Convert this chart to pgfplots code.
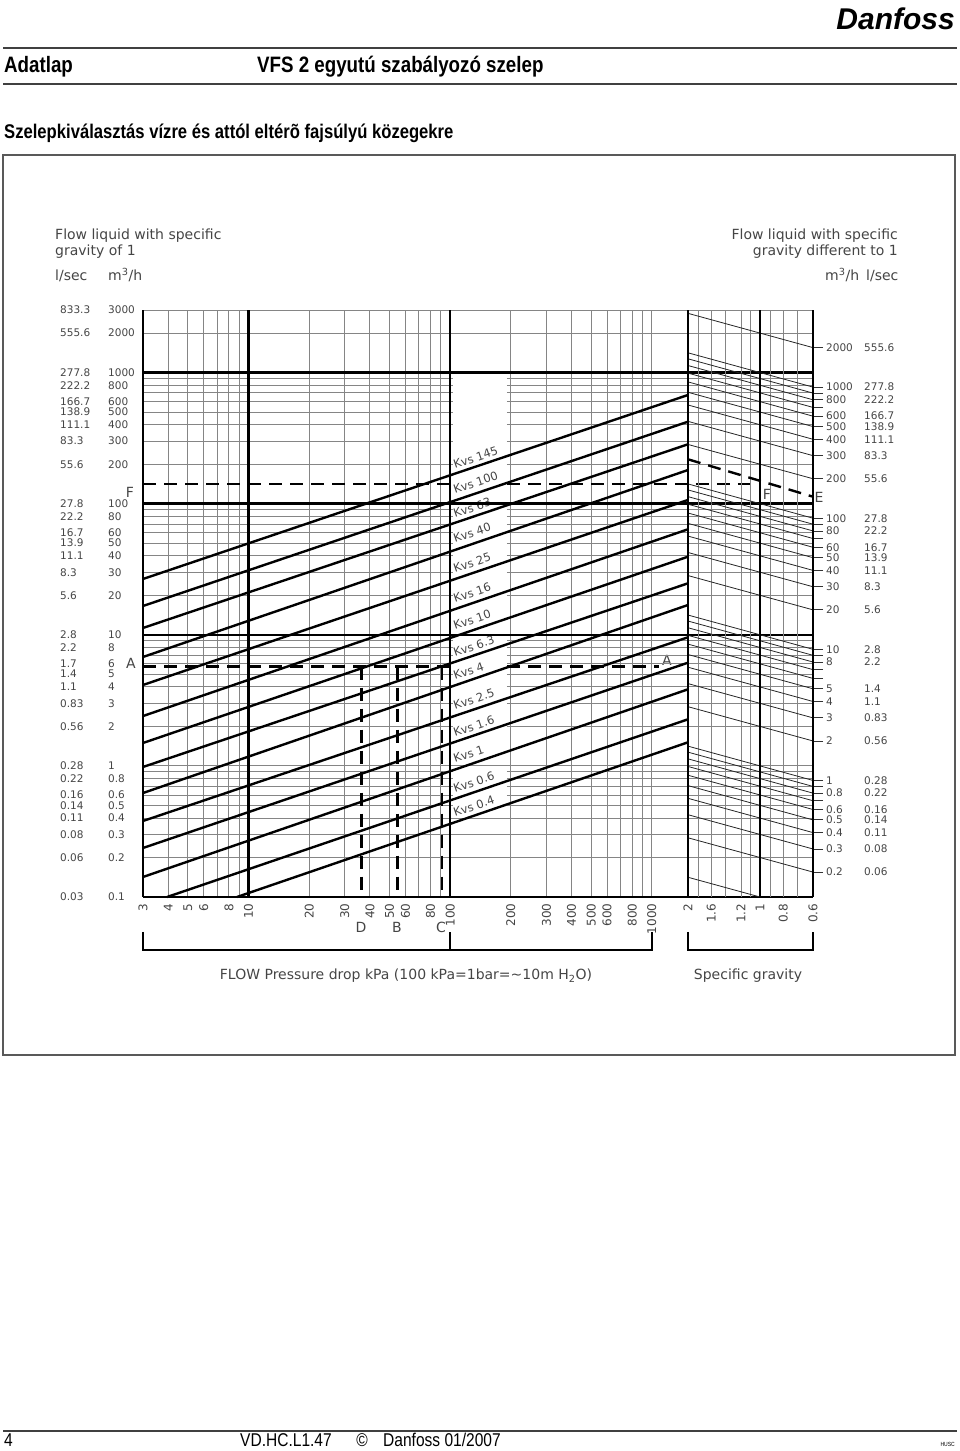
\documentclass[border=0pt]{standalone}
\usepackage{fontspec}
\usepackage{pgfplots}
\pgfplotsset{compat=1.18}
\setmainfont{Liberation Sans}
\newfontfamily\hdr[FakeStretch=0.84]{Liberation Sans}
\newfontfamily\cad{DejaVu Sans}
\definecolor{gridc}{HTML}{858585}
\definecolor{txtc}{HTML}{454545}
\newcommand\LL[2]{\makebox[48pt][l]{#2}#1}
\newcommand\RL[2]{\makebox[38pt][l]{#1}#2}
\newcommand\ctxt{\cad\fontsize{10.5}{12}\selectfont}
\newcommand\btxt{\cad\fontsize{12}{13}\selectfont}
\tikzset{gridl/.style={draw=gridc,line width=0.9pt},
 thk/.style={draw=black,line width=2.4pt},
 kvs/.style={draw=black,line width=2.4pt},
 sgl/.style={draw=black!85,line width=0.8pt},
 dsh/.style={draw=black,line width=2.4pt,dash pattern=on 13pt off 8pt}}
\begin{document}
\begin{tikzpicture}[x=1pt,y=1pt]
\useasboundingbox (0,0) rectangle (960,1451);
\begin{scope}[y=-1pt, shift={(0pt,1451pt)}]
 % header
 \node[anchor=north east, inner sep=0] at (955,8) {\fontsize{30}{30}\selectfont\bfseries\itshape Danfoss};
 \draw[line width=1.2pt, black!75] (3,48) -- (957,48);
 \draw[line width=1.2pt, black!75] (3,84) -- (957,84);
 \node[anchor=base west, inner sep=0] at (4,73) {\hdr\bfseries\fontsize{22.3}{22}\selectfont Adatlap};
 \node[anchor=base west, inner sep=0] at (257,73) {\hdr\bfseries\fontsize{22.3}{22}\selectfont VFS 2 egyutú szabályozó szelep};
 \node[anchor=base west, inner sep=0] at (4,139) {\hdr\bfseries\fontsize{19.8}{20}\selectfont Szelepkiválasztás vízre és attól eltérõ fajsúlyú közegekre};
 \draw[line width=1.3pt, black!65] (3,155) rectangle (955,1055);
 % footer
 \draw[line width=1.2pt, black!75] (3,1431) -- (957,1431);
 \node[anchor=base west, inner sep=0] at (4,1446) {\hdr\fontsize{18.5}{19}\selectfont 4};
 \node[anchor=base west, inner sep=0] at (240,1446) {\hdr\fontsize{18.5}{19}\selectfont VD.HC.L1.47};
 \node[anchor=base, inner sep=0] at (362,1446) {\hdr\fontsize{18.5}{19}\selectfont\textcopyright};
 \node[anchor=base west, inner sep=0] at (383,1446) {\hdr\fontsize{18.5}{19}\selectfont Danfoss 01/2007};
 \node[anchor=base east, inner sep=0] at (955,1446) {\hdr\fontsize{6}{6}\selectfont HUSC};
 % chart texts
 \begin{scope}[every node/.style={inner sep=0, text=txtc, font=\cad\fontsize{14}{15}\selectfont}]
 \node[anchor=base west] at (55,240) {Flow liquid with specific};
 \node[anchor=base west] at (55,256) {gravity of 1};
 \node[anchor=base west] at (55,281) {l/sec};
 \node[anchor=base west] at (108,281) {m\textsuperscript{3}/h};
 \node[anchor=base east] at (898,240) {Flow liquid with specific};
 \node[anchor=base east] at (898,256) {gravity different to 1};
 \node[anchor=base west] at (825,281) {m\textsuperscript{3}/h};
 \node[anchor=base west] at (866,281) {l/sec};
 \node at (130,492) {F};
 \node at (767,494) {F};
 \node at (819,497) {E};
 \node at (131,663) {A};
 \node at (667,660) {A};
 \node at (361,927) {D};
 \node at (397,927) {B};
 \node at (441,927) {C};
 \node at (406,976) {FLOW Pressure drop kPa (100 kPa=1bar=\textasciitilde10m H\textsubscript{2}O)};
 \node at (748,976) {Specific gravity};
 \end{scope}
 \begin{scope}[every node/.style={inner sep=0, text=txtc, anchor=base west, rotate=18.7, font=\cad\fontsize{11.5}{12}\selectfont}]
 \node at (455,469) {Kvs 145};
 \node at (455,494) {Kvs 100};
 \node at (455,518) {Kvs 63};
 \node at (455,543) {Kvs 40};
 \node at (455,573) {Kvs 25};
 \node at (455,603) {Kvs 16};
 \node at (455,630) {Kvs 10};
 \node at (455,657) {Kvs 6.3};
 \node at (455,680) {Kvs 4};
 \node at (455,710) {Kvs 2.5};
 \node at (455,737) {Kvs 1.6};
 \node at (455,763) {Kvs 1};
 \node at (455,793) {Kvs 0.6};
 \node at (455,817) {Kvs 0.4};
 \end{scope}
 % brackets
 \draw[line width=2.2pt] (143,932) -- (143,950) -- (652,950) -- (652,932);
 \draw[line width=2.2pt] (450,950) -- (450,932);
 \draw[line width=2.2pt] (688,932) -- (688,950) -- (813,950) -- (813,932);
\end{scope}

% ---------------- main axis ----------------
\begin{axis}[
  at={(143pt,554pt)}, anchor=south west,
  scale only axis, width=545pt, height=587pt,
  xmode=log, ymode=log,
  xmin=3, xmax=1511, ymin=0.1, ymax=3000,
  clip=false,
  axis line style={draw=none},
  tick style={draw=none},
  major tick length=0pt, minor tick length=0pt,
  xtick={3,4,5,6,7,8,9,10,20,30,40,50,60,70,80,90,100,200,300,400,500,600,700,800,900,1000},
  xticklabels={3,4,5,6,{},8,{},10,20,30,40,50,60,{},80,{},100,200,300,400,500,600,{},800,{},1000},
  xticklabel style={rotate=90, anchor=east, inner xsep=6.5pt, inner ysep=1pt, font=\btxt, text=txtc},
  xmajorgrids,
  major grid style={gridc, line width=0.9pt},
  ytick={0.1,0.2,0.3,0.4,0.5,0.6,0.8,1,2,3,4,5,6,8,10,20,30,40,50,60,80,100,200,300,400,500,600,800,1000,2000,3000},
  yticklabels={\LL{0.1}{0.03},\LL{0.2}{0.06},\LL{0.3}{0.08},\LL{0.4}{0.11},\LL{0.5}{0.14},\LL{0.6}{0.16},\LL{0.8}{0.22},\LL{1}{0.28},\LL{2}{0.56},\LL{3}{0.83},\LL{4}{1.1},\LL{5}{1.4},\LL{6}{1.7},\LL{8}{2.2},\LL{10}{2.8},\LL{20}{5.6},\LL{30}{8.3},\LL{40}{11.1},\LL{50}{13.9},\LL{60}{16.7},\LL{80}{22.2},\LL{100}{27.8},\LL{200}{55.6},\LL{300}{83.3},\LL{400}{111.1},\LL{500}{138.9},\LL{600}{166.7},\LL{800}{222.2},\LL{1000}{277.8},\LL{2000}{555.6},\LL{3000}{833.3}},
  yticklabel style={anchor=west, inner sep=0pt, xshift=-83pt, font=\ctxt, text=txtc},
]
\pgfplotsinvokeforeach{0.2,0.3,0.4,1,2000,3000}{\draw[gridl] (axis cs:3,#1) -- (axis cs:6295,#1);}
\pgfplotsinvokeforeach{0.5,0.6,0.7,0.8,0.9,2,3,4,5,6,7,8,9,20,30,40,50,60,70,80,90,200,300,400,500,600,700,800,900}{%
  \draw[gridl] (axis cs:3,#1) -- (axis cs:103,#1);
  \draw[gridl] (axis cs:191,#1) -- (axis cs:6295,#1);}
\pgfplotsinvokeforeach{0.1,10,100,1000}{\draw[thk] (axis cs:3,#1) -- (axis cs:6295,#1);}
\pgfplotsinvokeforeach{3,10,100}{\draw[thk] (axis cs:#1,0.1) -- (axis cs:#1,3000);}
% Kvs lines
\addplot[kvs] coordinates {(3,26.64) (1511,674.4)};
\addplot[kvs] coordinates {(3,16.58) (1511,421.9)};
\addplot[kvs] coordinates {(3,11.27) (1511,283.7)};
\addplot[kvs] coordinates {(3,6.77) (1511,180.6)};
\addplot[kvs] coordinates {(3,4.14) (1511,106.7)};
\addplot[kvs] coordinates {(3,2.40) (1511,63.76)};
\addplot[kvs] coordinates {(3,1.495) (1511,39.40)};
\addplot[kvs] coordinates {(3,0.981) (1511,24.69)};
\addplot[kvs] coordinates {(3,0.621) (1511,16.87)};
\addplot[kvs] coordinates {(3,0.380) (1511,9.568)};
\addplot[kvs] coordinates {(3,0.2365) (1511,6.124)};
\addplot[kvs] coordinates {(3,0.1421) (1511,3.838)};
\addplot[kvs] coordinates {(3.95,0.1) (1511,2.266)};
\addplot[kvs] coordinates {(8.77,0.1) (1511,1.513)};
% dashed construction lines
\addplot[dsh] coordinates {(3,140.6) (103,140.6)};
\addplot[dsh] coordinates {(191,140.6) (3437,140.6)};
\addplot[dsh] coordinates {(3,5.71) (103,5.71)};
\addplot[dsh] coordinates {(191,5.71) (1085,5.71)};
\addplot[dsh] coordinates {(36.4,5.71) (36.4,0.1)};
\addplot[dsh] coordinates {(54.9,5.71) (54.9,0.1)};
\addplot[dsh] coordinates {(90.8,5.71) (90.8,0.1)};
\end{axis}

% ---------------- specific gravity panel ----------------
\begin{axis}[
  at={(688pt,554pt)}, anchor=south west,
  scale only axis, width=125pt, height=587pt,
  xmode=log, ymode=log, x dir=reverse,
  xmin=0.6, xmax=2, ymin=0.1, ymax=3000,
  clip mode=individual,
  axis line style={draw=none},
  tick style={draw=none},
  major tick length=0pt, minor tick length=0pt,
  ytick=\empty,
  xtick={0.6,0.7,0.8,0.9,1,1.1,1.2,1.4,1.6,1.8,2},
  xticklabels={0.6,{},0.8,{},1,{},1.2,{},1.6,{},2},
  xticklabel style={rotate=90, anchor=east, inner xsep=6.5pt, inner ysep=1pt, font=\btxt, text=txtc},
  xmajorgrids,
  major grid style={gridc, line width=0.9pt},
]
\addplot[sgl, unbounded coords=jump] table[row sep=\\] {
x y\\
2 0.14142\\ 0.6 0.077460\\ nan nan\\
2 0.28284\\ 0.6 0.15492\\ nan nan\\
2 0.42426\\ 0.6 0.23238\\ nan nan\\
2 0.56569\\ 0.6 0.30984\\ nan nan\\
2 0.70711\\ 0.6 0.38730\\ nan nan\\
2 0.84853\\ 0.6 0.46476\\ nan nan\\
2 0.98995\\ 0.6 0.54222\\ nan nan\\
2 1.1314\\ 0.6 0.61968\\ nan nan\\
2 1.2728\\ 0.6 0.69714\\ nan nan\\
2 1.4142\\ 0.6 0.77460\\ nan nan\\
2 2.8284\\ 0.6 1.5492\\ nan nan\\
2 4.2426\\ 0.6 2.3238\\ nan nan\\
2 5.6569\\ 0.6 3.0984\\ nan nan\\
2 7.0711\\ 0.6 3.8730\\ nan nan\\
2 8.4853\\ 0.6 4.6476\\ nan nan\\
2 9.8995\\ 0.6 5.4222\\ nan nan\\
2 11.314\\ 0.6 6.1968\\ nan nan\\
2 12.728\\ 0.6 6.9714\\ nan nan\\
2 14.142\\ 0.6 7.7460\\ nan nan\\
2 28.284\\ 0.6 15.492\\ nan nan\\
2 42.426\\ 0.6 23.238\\ nan nan\\
2 56.569\\ 0.6 30.984\\ nan nan\\
2 70.711\\ 0.6 38.730\\ nan nan\\
2 84.853\\ 0.6 46.476\\ nan nan\\
2 98.995\\ 0.6 54.222\\ nan nan\\
2 113.14\\ 0.6 61.968\\ nan nan\\
2 127.28\\ 0.6 69.714\\ nan nan\\
2 141.42\\ 0.6 77.460\\ nan nan\\
2 282.84\\ 0.6 154.92\\ nan nan\\
2 424.26\\ 0.6 232.38\\ nan nan\\
2 565.69\\ 0.6 309.84\\ nan nan\\
2 707.11\\ 0.6 387.30\\ nan nan\\
2 848.53\\ 0.6 464.76\\ nan nan\\
2 989.95\\ 0.6 542.22\\ nan nan\\
2 1131.4\\ 0.6 619.68\\ nan nan\\
2 1272.8\\ 0.6 697.14\\ nan nan\\
2 1414.2\\ 0.6 774.60\\ nan nan\\
2 2828.4\\ 0.6 1549.2\\
};
\pgfplotsinvokeforeach{2,1,0.6}{\draw[thk] (axis cs:#1,0.1) -- (axis cs:#1,3000);}
\addplot[dsh] coordinates {(2,217.9) (0.6,113.0)};
\end{axis}

% ---------------- right-hand scale ----------------
\begin{axis}[
  at={(813pt,554pt)}, anchor=south west,
  scale only axis, width=1pt, height=587pt,
  xmin=0, xmax=1, ymode=log, ymin=0.1291, ymax=3873,
  hide x axis, axis y line*=right, y axis line style={draw=none},
  ytick={0.2,0.3,0.4,0.5,0.6,0.7,0.8,0.9,1,2,3,4,5,6,7,8,9,10,20,30,40,50,60,70,80,90,100,200,300,400,500,600,700,800,900,1000,2000},
  yticklabels={\RL{0.2}{0.06},\RL{0.3}{0.08},\RL{0.4}{0.11},\RL{0.5}{0.14},\RL{0.6}{0.16},{},\RL{0.8}{0.22},{},\RL{1}{0.28},\RL{2}{0.56},\RL{3}{0.83},\RL{4}{1.1},\RL{5}{1.4},{},{},\RL{8}{2.2},{},\RL{10}{2.8},\RL{20}{5.6},\RL{30}{8.3},\RL{40}{11.1},\RL{50}{13.9},\RL{60}{16.7},{},\RL{80}{22.2},{},\RL{100}{27.8},\RL{200}{55.6},\RL{300}{83.3},\RL{400}{111.1},\RL{500}{138.9},\RL{600}{166.7},{},\RL{800}{222.2},{},\RL{1000}{277.8},\RL{2000}{555.6}},
  ytick align=outside, major tick length=9pt, minor tick length=0pt,
  major tick style={black!80, line width=0.8pt},
  yticklabel style={anchor=west, inner sep=0pt, xshift=3pt, font=\ctxt, text=txtc},
]
\end{axis}
\end{tikzpicture}
\end{document}
